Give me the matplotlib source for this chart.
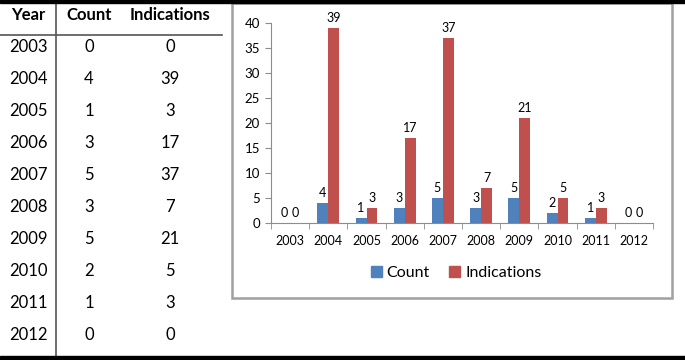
import matplotlib
matplotlib.use("Agg")
import matplotlib.pyplot as plt
from matplotlib.patches import Rectangle, Patch
from matplotlib.lines import Line2D
import numpy as np

years = ["2003", "2004", "2005", "2006", "2007", "2008", "2009", "2010", "2011", "2012"]
count = [0, 4, 1, 3, 5, 3, 5, 2, 1, 0]
indications = [0, 39, 3, 17, 37, 7, 21, 5, 3, 0]
headers = ["Year", "Count", "Indications"]
yticks = [0, 5, 10, 15, 20, 25, 30, 35, 40]

BLUE = "#4F81BD"
RED = "#C0504D"
GRAY = "#8C8C8C"

plt.rcParams["font.family"] = ["Lato", "DejaVu Sans"]

W, H = 685, 360
fig = plt.figure(figsize=(W / 100, H / 100), dpi=100)

def fx(px):
    return px / W

def fy(py):
    return 1 - py / H

# black bands top and bottom
fig.patches.append(Rectangle((0, fy(3)), 1, 3 / H, transform=fig.transFigure, color="black", zorder=5))
fig.patches.append(Rectangle((0, 0), 1, 4 / H, transform=fig.transFigure, color="black", zorder=5))

# table lines
fig.add_artist(Line2D([fx(56), fx(56)], [fy(3), fy(356)], transform=fig.transFigure, color="#555555", lw=1.2))
fig.add_artist(Line2D([0, fx(222)], [fy(35), fy(35)], transform=fig.transFigure, color="#555555", lw=1.2))

col_x = [28, 89, 170]
for cx, h in zip(col_x, headers):
    fig.text(fx(cx), fy(15), h, ha="center", va="center", fontsize=12, fontweight="bold")
for i, (yr, c, ind) in enumerate(zip(years, count, indications)):
    ypix = 47 + i * 32.0
    fig.text(fx(col_x[0]), fy(ypix), yr, ha="center", va="center", fontsize=12)
    fig.text(fx(col_x[1]), fy(ypix), str(c), ha="center", va="center", fontsize=12)
    fig.text(fx(col_x[2]), fy(ypix), str(ind), ha="center", va="center", fontsize=12)

# chart box
fig.patches.append(Rectangle((fx(232), fy(298)), 440 / W, 295 / H, transform=fig.transFigure,
                             facecolor="none", edgecolor="#A0A0A0", lw=1.8, zorder=4))

ax = fig.add_axes([fx(271), fy(222.7), (653 - 271) / W, (222.7 - 23) / H])
x = np.arange(len(years))
bw = 1 / 3.5
b1 = ax.bar(x - bw / 2, count, bw, color=BLUE, label="Count")
b2 = ax.bar(x + bw / 2, indications, bw, color=RED, label="Indications")
ax.bar_label(b1, padding=3, fontsize=9)
ax.bar_label(b2, padding=3, fontsize=9)

ax.set_xlim(-0.5, len(years) - 0.5)
ax.set_ylim(0, 40)
ax.set_yticks(yticks)
ax.set_xticks(x)
ax.set_xticklabels(years)
ax.set_xticks(np.arange(-0.5, len(years)), minor=True)
ax.tick_params(axis="x", which="major", length=0, labelsize=9, pad=9)
ax.tick_params(axis="x", which="minor", length=4, color=GRAY, direction="out")
ax.tick_params(axis="y", length=4, color=GRAY, labelsize=9.5, pad=4)
for s in ["top", "right"]:
    ax.spines[s].set_visible(False)
ax.spines["left"].set_color(GRAY)
ax.spines["bottom"].set_color(GRAY)
ax.patch.set_alpha(0)

handles = [Patch(color=BLUE, label="Count"), Patch(color=RED, label="Indications")]
fig.legend(handles=handles, loc="center", bbox_to_anchor=(fx(456), fy(273)), ncol=2,
           frameon=False, fontsize=11.5, handlelength=0.7, handleheight=0.7,
           handletextpad=0.3, columnspacing=1.2)

fig.savefig("out.png", dpi=100)
